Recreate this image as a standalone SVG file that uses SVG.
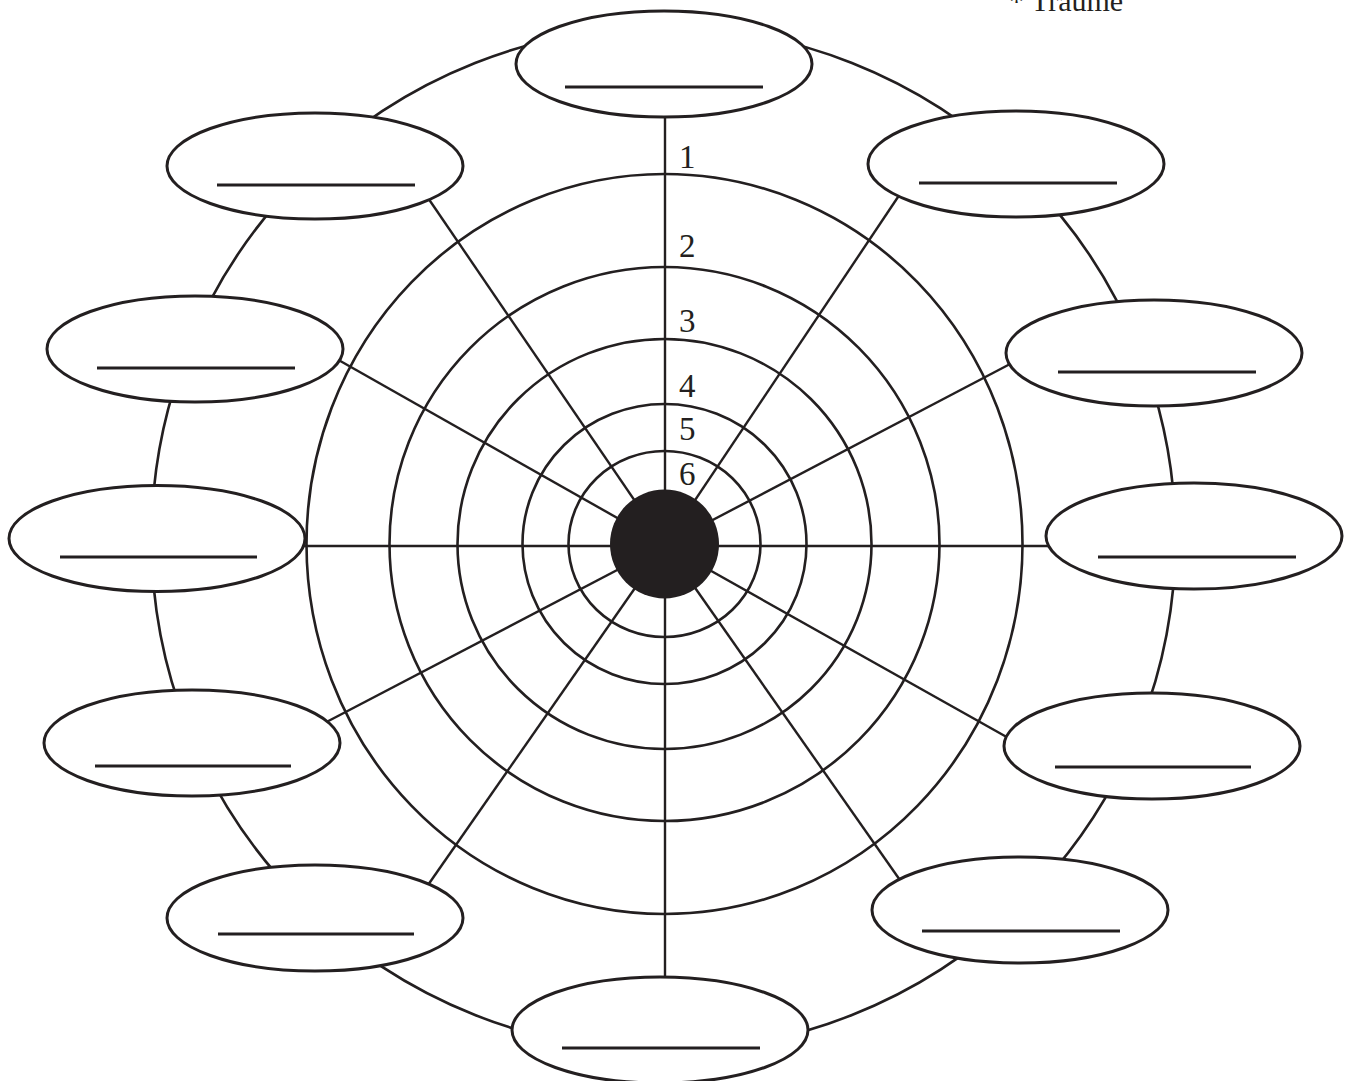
<svg xmlns="http://www.w3.org/2000/svg" width="1351" height="1081" viewBox="0 0 1351 1081">
<style>
.ring{fill:none;stroke:#231f20;stroke-width:2.6}
.spoke{stroke:#231f20;stroke-width:2.4;fill:none}
.node ellipse{fill:#fff;stroke:#231f20;stroke-width:3}
.node line{stroke:#231f20;stroke-width:3}
.num{font-family:"Liberation Serif","Times New Roman",serif;font-size:33px;fill:#231f20}
.note{font-family:"Liberation Serif","Times New Roman",serif;font-size:30px;fill:#231f20}
</style>
<rect width="1351" height="1081" fill="#fff"/>
<g id="rings">
<circle class="ring" cx="663.5" cy="539" r="512"/>
<ellipse class="ring" cx="664.5" cy="544" rx="358" ry="370"/>
<ellipse class="ring" cx="664.5" cy="544" rx="275" ry="277"/>
<ellipse class="ring" cx="664.5" cy="544" rx="207" ry="205"/>
<ellipse class="ring" cx="664.5" cy="544" rx="142" ry="140"/>
<ellipse class="ring" cx="664.5" cy="544" rx="96" ry="93"/>
</g>
<g id="connectors">
<line class="spoke" x1="665" y1="545" x2="665" y2="115"/>
<line class="spoke" x1="665" y1="545" x2="902" y2="191"/>
<line class="spoke" x1="665" y1="545" x2="1012" y2="363"/>
<line class="spoke" x1="665" y1="546" x2="1050" y2="546"/>
<line class="spoke" x1="665" y1="545" x2="1012" y2="740"/>
<line class="spoke" x1="665" y1="545" x2="902" y2="883"/>
<line class="spoke" x1="665" y1="545" x2="665" y2="980"/>
<line class="spoke" x1="665" y1="545" x2="428" y2="885"/>
<line class="spoke" x1="665" y1="545" x2="315" y2="728"/>
<line class="spoke" x1="665" y1="546" x2="302" y2="546"/>
<line class="spoke" x1="665" y1="545" x2="335" y2="358"/>
<line class="spoke" x1="665" y1="545" x2="426" y2="195"/>
</g>
<g id="labels">
<text class="num" x="679" y="168">1</text>
<text class="num" x="679" y="257">2</text>
<text class="num" x="679" y="332">3</text>
<text class="num" x="679" y="397">4</text>
<text class="num" x="679" y="440">5</text>
<text class="num" x="679" y="485">6</text>
<text class="note" x="1009" y="11">* Traume</text>
</g>
<g id="center"><circle cx="664.5" cy="544" r="54.5" fill="#231f20"/></g>
<g id="node-top" class="node"><ellipse cx="664" cy="64" rx="148" ry="53"/><line x1="565" y1="87" x2="763" y2="87"/></g>
<g id="node-top-right" class="node"><ellipse cx="1016" cy="164" rx="148" ry="53"/><line x1="919" y1="183" x2="1117" y2="183"/></g>
<g id="node-right-top" class="node"><ellipse cx="1154" cy="353" rx="148" ry="53"/><line x1="1058" y1="372" x2="1256" y2="372"/></g>
<g id="node-right" class="node"><ellipse cx="1194" cy="536" rx="148" ry="53"/><line x1="1098" y1="557" x2="1296" y2="557"/></g>
<g id="node-right-bottom" class="node"><ellipse cx="1152" cy="746" rx="148" ry="53"/><line x1="1055" y1="767" x2="1251" y2="767"/></g>
<g id="node-bottom-right" class="node"><ellipse cx="1020" cy="910" rx="148" ry="53"/><line x1="922" y1="931" x2="1120" y2="931"/></g>
<g id="node-bottom" class="node"><ellipse cx="660" cy="1030" rx="148" ry="53"/><line x1="562" y1="1048" x2="760" y2="1048"/></g>
<g id="node-bottom-left" class="node"><ellipse cx="315" cy="918" rx="148" ry="53"/><line x1="218" y1="934" x2="414" y2="934"/></g>
<g id="node-left-bottom" class="node"><ellipse cx="192" cy="743" rx="148" ry="53"/><line x1="95" y1="766" x2="291" y2="766"/></g>
<g id="node-left" class="node"><ellipse cx="157" cy="538.5" rx="148" ry="53"/><line x1="60" y1="557" x2="257" y2="557"/></g>
<g id="node-left-top" class="node"><ellipse cx="195" cy="349" rx="148" ry="53"/><line x1="97" y1="368" x2="295" y2="368"/></g>
<g id="node-top-left" class="node"><ellipse cx="315" cy="166" rx="148" ry="53"/><line x1="217" y1="185" x2="415" y2="185"/></g>
</svg>
